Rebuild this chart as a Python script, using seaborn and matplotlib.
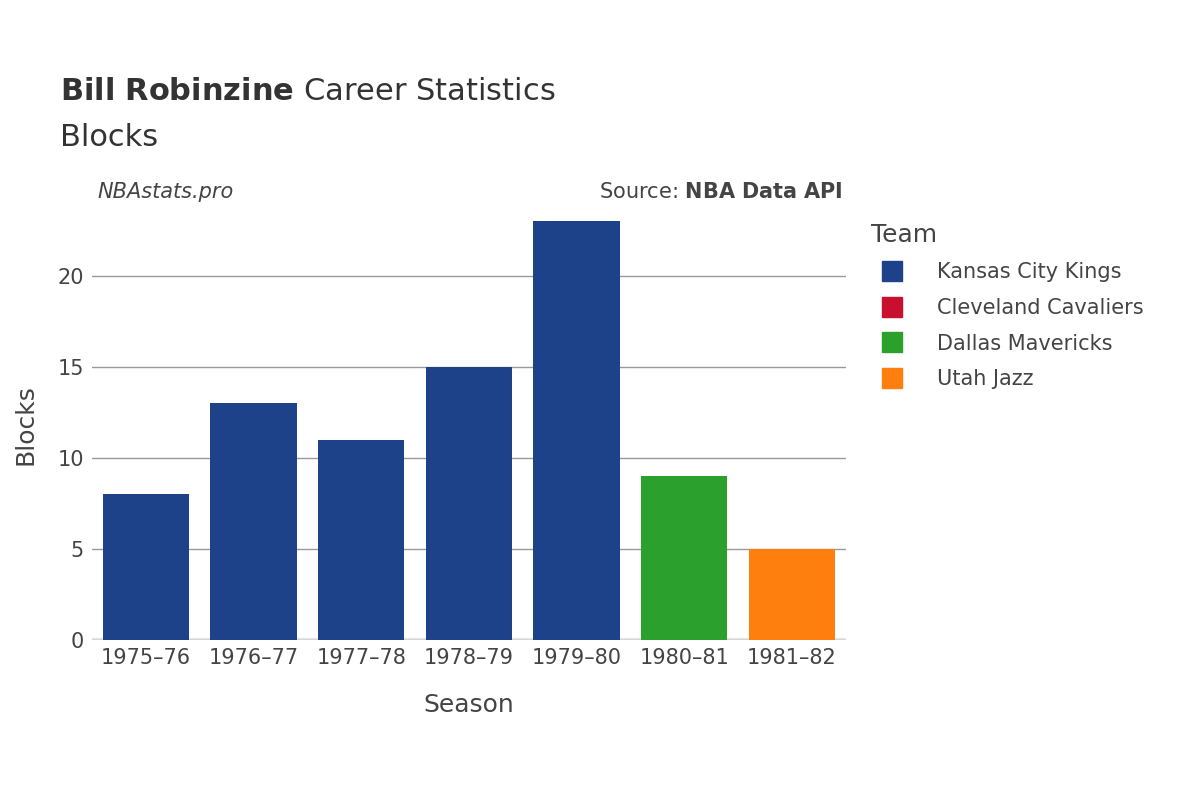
import matplotlib
matplotlib.use("Agg")
import matplotlib.pyplot as plt
import seaborn as sns
import pandas as pd
from matplotlib.lines import Line2D

seasons = ["1975–76", "1976–77", "1977–78", "1978–79", "1979–80", "1980–81", "1981–82"]
blocks = [8, 13, 11, 15, 23, 9, 5]
teams = ["Kansas City Kings"] * 5 + ["Dallas Mavericks", "Utah Jazz"]
legend_teams = ["Kansas City Kings", "Cleveland Cavaliers", "Dallas Mavericks", "Utah Jazz"]
colors = {"Kansas City Kings": "#1d428a", "Cleveland Cavaliers": "#c8102e",
          "Dallas Mavericks": "#2ca02c", "Utah Jazz": "#ff7f0e"}

df = pd.DataFrame({"Season": seasons, "Blocks": blocks, "Team": teams})

fig = plt.figure(figsize=(12, 8), dpi=100)
ax = fig.add_axes([0.0767, 0.2, 0.628, 0.5375])
sns.barplot(data=df, x="Season", y="Blocks", hue="Team", palette=colors,
            dodge=False, width=0.8, ax=ax, legend=False, saturation=1)
ax.set_ylim(0, 23.6)
ax.set_xlim(-0.5, 6.5)
ax.set_yticks([0, 5, 10, 15, 20])
ax.grid(axis="y", color="#999999", linewidth=1)
ax.set_axisbelow(True)
for s in ax.spines.values():
    s.set_visible(False)
ax.axhline(0, color="#e6e6e6", linewidth=3, zorder=0)
ax.tick_params(length=0, labelsize=15, colors="#444444", pad=6)
ax.set_xlabel("Season", fontsize=18, color="#444444", labelpad=18)
ax.set_ylabel("Blocks", fontsize=18, color="#444444", labelpad=14)

fig.text(0.05, 0.875, r"$\bf{Bill\ Robinzine}$ Career Statistics", fontsize=22, color="#333333")
fig.text(0.05, 0.818, "Blocks", fontsize=22, color="#333333")
fig.text(0.081, 0.752, "NBAstats.pro", fontsize=15, style="italic", color="#444444")
fig.text(0.702, 0.752, r"Source: $\bf{NBA\ Data\ API}$", fontsize=15, color="#444444", ha="right")

handles = [Line2D([0], [0], marker="s", linestyle="", markersize=15,
                  markerfacecolor=colors[t], markeredgecolor=colors[t]) for t in legend_teams]
leg = fig.legend(handles, legend_teams, loc="upper left", bbox_to_anchor=(0.71, 0.745),
                 frameon=False, fontsize=15, title="Team", title_fontsize=18,
                 labelspacing=0.75, handletextpad=1.2, labelcolor="#444444")
leg._legend_box.align = "left"
leg.get_title().set_color("#444444")

fig.savefig("out.png", dpi=100)
